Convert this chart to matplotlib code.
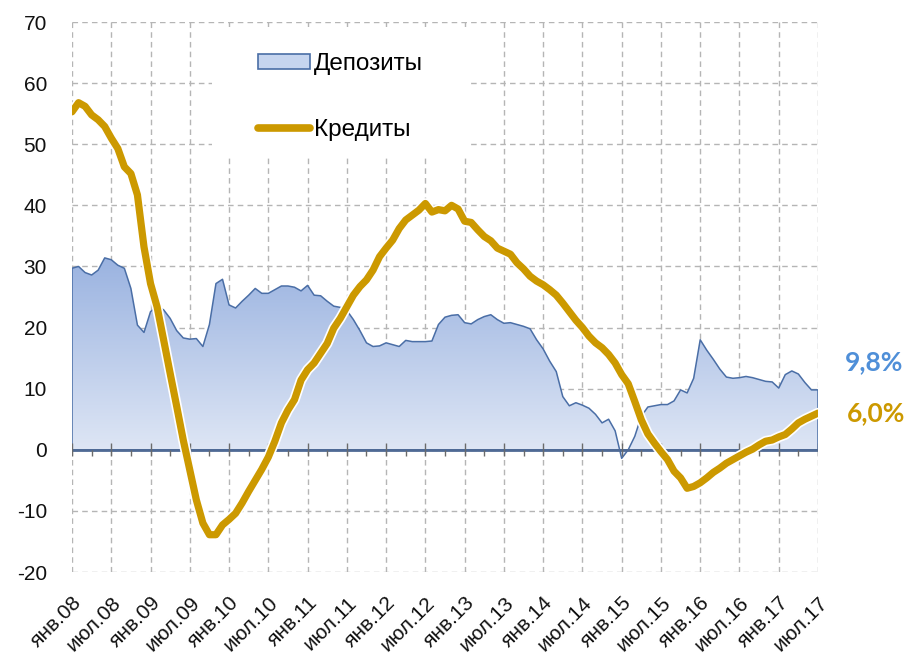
import matplotlib
matplotlib.use("Agg")
import matplotlib.pyplot as plt
import matplotlib.patheffects as pe
from matplotlib.colors import LinearSegmentedColormap
from matplotlib.patches import Rectangle, Patch
from matplotlib.lines import Line2D
import numpy as np

# помесячные данные, янв.08 - июл.17, % г/г
deposits = [29.7, 30.0, 29.0, 28.6, 29.4, 31.4, 31.1, 30.2, 29.7, 26.4,
            20.4, 19.2, 22.6, 23.5, 22.9, 21.5, 19.5, 18.3, 18.1, 18.2,
            16.9, 20.5, 27.2, 27.9, 23.7, 23.2, 24.3, 25.3, 26.4, 25.6,
            25.6, 26.2, 26.8, 26.8, 26.6, 26.0, 26.9, 25.3, 25.2, 24.3,
            23.5, 23.3, 22.8, 21.3, 19.5, 17.5, 16.9, 17.0, 17.5, 17.2,
            16.9, 17.9, 17.7, 17.7, 17.7, 17.8, 20.5, 21.7, 22.0, 22.1,
            20.8, 20.6, 21.3, 21.8, 22.1, 21.3, 20.7, 20.8, 20.5, 20.2,
            19.8, 18.0, 16.5, 14.5, 12.8, 8.7, 7.2, 7.7, 7.3, 6.8,
            5.8, 4.4, 5.0, 3.1, -1.4, 0.0, 2.2, 5.5, 7.0, 7.2,
            7.4, 7.4, 8.0, 9.8, 9.3, 11.7, 18.0, 16.3, 14.8, 13.2,
            11.9, 11.7, 11.8, 12.0, 11.8, 11.5, 11.2, 11.1, 10.1, 12.3,
            12.9, 12.4, 11.0, 9.8, 9.8]

credits = [55.3, 56.8, 56.2, 54.8, 54.0, 52.9, 51.0, 49.3, 46.3, 45.2,
           41.7, 33.2, 27.2, 23.4, 18.0, 12.5, 7.1, 1.6, -3.3, -8.2,
           -12.0, -13.9, -13.9, -12.3, -11.4, -10.4, -8.7, -6.8, -5.0, -3.2,
           -1.2, 1.4, 4.4, 6.5, 8.2, 11.4, 13.1, 14.2, 15.8, 17.4,
           19.9, 21.5, 23.4, 25.3, 26.7, 27.8, 29.4, 31.6, 33.0, 34.3,
           36.2, 37.6, 38.4, 39.2, 40.3, 38.9, 39.3, 39.1, 40.0, 39.4,
           37.4, 37.2, 36.0, 34.9, 34.2, 33.0, 32.5, 32.0, 30.6, 29.6,
           28.4, 27.6, 27.0, 26.2, 25.3, 24.0, 22.6, 21.2, 20.0, 18.6,
           17.5, 16.7, 15.6, 14.2, 12.3, 10.8, 7.9, 4.9, 2.6, 1.1,
           -0.3, -1.6, -3.5, -4.6, -6.3, -6.0, -5.4, -4.6, -3.7, -3.0,
           -2.2, -1.6, -1.0, -0.4, 0.1, 0.8, 1.4, 1.6, 2.1, 2.5,
           3.4, 4.4, 5.0, 5.5, 6.0]

tick_labels = ["янв.08", "июл.08", "янв.09", "июл.09", "янв.10", "июл.10",
               "янв.11", "июл.11", "янв.12", "июл.12", "янв.13", "июл.13",
               "янв.14", "июл.14", "янв.15", "июл.15", "янв.16", "июл.16",
               "янв.17", "июл.17"]

last_dep = "9,8%"
last_cred = "6,0%"

plt.rcParams["font.family"] = ["Liberation Sans", "DejaVu Sans"]
plt.rcParams["axes.unicode_minus"] = False

blue_edge = "#4a6ea6"
gold = "#cc9900"

x = np.arange(len(deposits))
dep = np.array(deposits)
cred = np.array(credits)

fig = plt.figure(figsize=(9.14, 6.59), dpi=100)
ax = fig.add_axes([72 / 914, 1 - 572 / 659, 746 / 914, 550 / 659])

# область депозитов с градиентом
poly = ax.fill_between(x, dep, 0, facecolor="none", edgecolor=blue_edge,
                       linewidth=1.1, zorder=3)
cmap = LinearSegmentedColormap.from_list("dep", ["#e2e9f6", "#99b2e0"])
grad = np.linspace(0, 1, 256).reshape(-1, 1)
im = ax.imshow(grad, extent=[0, x[-1], -2, 32], origin="lower", cmap=cmap,
               aspect="auto", zorder=2)
im.set_clip_path(poly.get_paths()[0], transform=ax.transData)

ax.plot(x, cred, color=gold, linewidth=5.2, solid_joinstyle="round",
        solid_capstyle="round", zorder=5,
        path_effects=[pe.Stroke(linewidth=7.6, foreground="white"), pe.Normal()])

# ось нуля с засечками
ax.axhline(0, color="#4f6a95", linewidth=2, zorder=4)
ax.vlines(x[::3], -1.0, 0, color="#6b6b6b", linewidth=1, zorder=4)
ax.vlines(x[::6], 0, 1.1, color="#6b6b6b", linewidth=1, zorder=4)

ax.set_xlim(0, x[-1])
ax.set_ylim(-20, 70)
ax.set_yticks(np.arange(-20, 71, 10))
ax.set_xticks(x[::6], tick_labels, rotation=45, ha="right",
              rotation_mode="anchor")
ax.tick_params(axis="x", length=0, pad=15, labelsize=15, colors="#111111")
ax.tick_params(axis="y", length=0, pad=18, labelsize=15, colors="#111111")
for s in ax.spines.values():
    s.set_visible(False)

ax.set_axisbelow(True)
ax.grid(True, color="#b5b5b5", linestyle=(0, (4, 3)), linewidth=1)

# белая подложка легенды
ax.add_patch(Rectangle((0.1877, 0.7527), 0.342, 0.238, transform=ax.transAxes,
                       facecolor="white", edgecolor="none", zorder=1))
handles = [Patch(facecolor="#c6d5ef", edgecolor=blue_edge, linewidth=1.2),
           Line2D([], [], color=gold, linewidth=5.5, solid_capstyle="round")]
ax.legend(handles, ["Депозиты", "Кредиты"], loc="upper left",
          bbox_to_anchor=(258 / 914, 1 - 53 / 659),
          bbox_transform=fig.transFigure, frameon=False, fontsize=17.5,
          handlelength=2.15, handleheight=0.58, handletextpad=0.16,
          labelspacing=1.8, borderpad=0, borderaxespad=0)

ax.annotate(last_dep, xy=(x[-1], dep[-1]), xytext=(19, 20),
            textcoords="offset points", va="center", ha="left",
            fontsize=19, fontweight="bold", family="Lato", color="#4f8fd8",
            annotation_clip=False)
ax.annotate(last_cred, xy=(x[-1], cred[-1]), xytext=(21, 0),
            textcoords="offset points", va="center", ha="left",
            fontsize=19, fontweight="bold", family="Lato", color=gold,
            annotation_clip=False)

fig.savefig("out.png", dpi=100)
